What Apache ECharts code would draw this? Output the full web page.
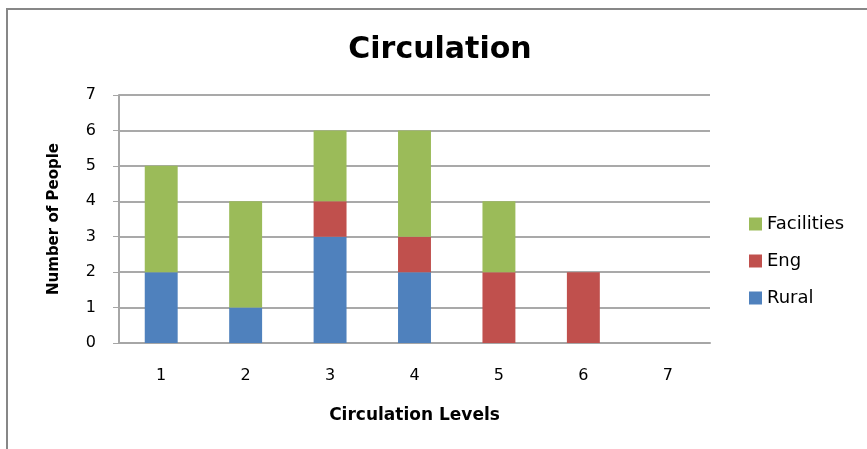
<!DOCTYPE html>
<html>
<head>
<meta charset="utf-8">
<script src="https://cdn.jsdelivr.net/npm/echarts@6/dist/echarts.min.js"></script>
<style>
  html, body { margin: 0; padding: 0; background: #fff; }
  #chart { width: 867px; height: 449px; }
</style>
</head>
<body>
<div id="chart"></div>
<script>
// Circulation levels and head counts per group
const levels = ['1', '2', '3', '4', '5', '6', '7'];
const rural = [2, 1, 3, 2, 0, 0, 0];
const eng = [0, 0, 1, 1, 2, 2, 0];
const facilities = [3, 3, 2, 3, 2, 0, 0];

const FONT = '"DejaVu Sans", Verdana, sans-serif';
const chart = echarts.init(document.getElementById('chart'));

chart.setOption({
  animation: false,
  textStyle: { fontFamily: FONT },
  title: {
    text: 'Circulation',
    left: 435, top: 30,
    textAlign: 'center',
    textStyle: { fontSize: 30, fontWeight: 'bold', color: '#000', fontFamily: FONT }
  },
  graphic: [{
    type: 'rect',
    shape: { x: 7, y: 9, width: 900, height: 500 },
    style: { fill: 'none', stroke: '#878787', lineWidth: 2 },
    silent: true
  }],
  grid: { left: 119, right: 157, top: 95, bottom: 106 },
  legend: {
    orient: 'vertical',
    left: 749, top: 215,
    padding: 0,
    itemWidth: 13, itemHeight: 13, itemGap: 19,
    icon: 'rect',
    data: ['Facilities', 'Eng', 'Rural'],
    textStyle: { fontSize: 18, color: '#000', fontFamily: FONT }
  },
  xAxis: {
    type: 'category',
    data: levels,
    name: 'Circulation Levels',
    nameLocation: 'middle',
    nameGap: 64,
    nameTextStyle: { fontSize: 17, fontWeight: 'bold', color: '#000' },
    axisLine: { lineStyle: { color: '#a6a6a6', width: 2 } },
    axisTick: { length: 6, lineStyle: { color: '#a6a6a6' } },
    axisLabel: { fontSize: 16, color: '#000', margin: 25 }
  },
  yAxis: {
    type: 'value',
    min: 0, max: 7, interval: 1,
    name: 'Number of People',
    nameLocation: 'middle',
    nameGap: 57,
    nameTextStyle: { fontSize: 15, fontWeight: 'bold', color: '#000' },
    axisLine: { show: true, lineStyle: { color: '#a6a6a6', width: 2 } },
    axisTick: { show: true, length: 6, lineStyle: { color: '#a6a6a6' } },
    axisLabel: { fontSize: 16, color: '#000', margin: 23 },
    splitLine: { lineStyle: { color: '#8c8c8c', width: 1.5 } }
  },
  series: [
    { name: 'Rural', type: 'bar', stack: 'total', data: rural, barWidth: '39%', itemStyle: { color: '#4f81bd' } },
    { name: 'Eng', type: 'bar', stack: 'total', data: eng, itemStyle: { color: '#c0504d' } },
    { name: 'Facilities', type: 'bar', stack: 'total', data: facilities, itemStyle: { color: '#9bbb59' } }
  ]
});
</script>
</body>
</html>
